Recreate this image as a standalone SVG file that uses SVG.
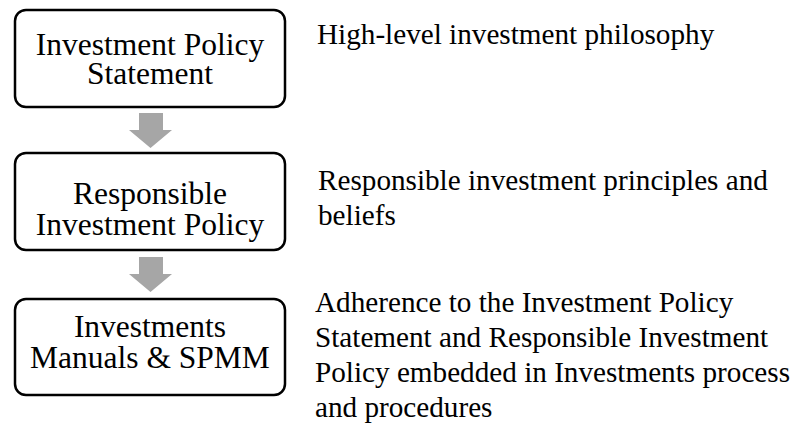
<svg xmlns="http://www.w3.org/2000/svg" width="796" height="428" viewBox="0 0 796 428">
  <style>
    .box { fill: #ffffff; stroke: #000000; stroke-width: 2.5; }
    .lbl { font-family: "Liberation Serif", "Times New Roman", serif; font-size: 31.5px; fill: #000000; text-anchor: middle; }
    .note { font-family: "Liberation Serif", "Times New Roman", serif; font-size: 29.2px; fill: #000000; }
    .arrow { fill: #a6a6a6; }
  </style>
  <rect width="796" height="428" fill="#ffffff"/>

  <!-- block arrows between the stacked boxes -->
  <g id="connectors">
    <polygon class="arrow" points="139,113 163,113 163,130 172,130 150.5,148 129,130 139,130"/>
    <polygon class="arrow" points="139,257 163,257 163,274 172,274 150.5,292 129,274 139,274"/>
  </g>

  <g id="node-ips">
    <rect class="box" x="15" y="10" width="270" height="97" rx="11"/>
    <text class="lbl" x="150" y="55">Investment Policy</text>
    <text class="lbl" x="150" y="84">Statement</text>
  </g>

  <g id="node-rip">
    <rect class="box" x="15" y="153" width="270" height="97" rx="11"/>
    <text class="lbl" x="150" y="204">Responsible</text>
    <text class="lbl" x="150" y="235">Investment Policy</text>
  </g>

  <g id="node-manuals">
    <rect class="box" x="15" y="299" width="270" height="96" rx="11"/>
    <text class="lbl" x="150" y="337">Investments</text>
    <text class="lbl" x="150" y="368">Manuals &amp; SPMM</text>
  </g>

  <!-- descriptions to the right of each box -->
  <g id="note-ips">
    <text class="note" x="317" y="44">High-level investment philosophy</text>
  </g>

  <g id="note-rip">
    <text class="note" x="318" y="190">Responsible investment principles and</text>
    <text class="note" x="318" y="225">beliefs</text>
  </g>

  <g id="note-manuals">
    <text class="note" x="315" y="312">Adherence to the Investment Policy</text>
    <text class="note" x="315" y="347">Statement and Responsible Investment</text>
    <text class="note" x="315" y="382">Policy embedded in Investments process</text>
    <text class="note" x="315" y="417">and procedures</text>
  </g>
</svg>
